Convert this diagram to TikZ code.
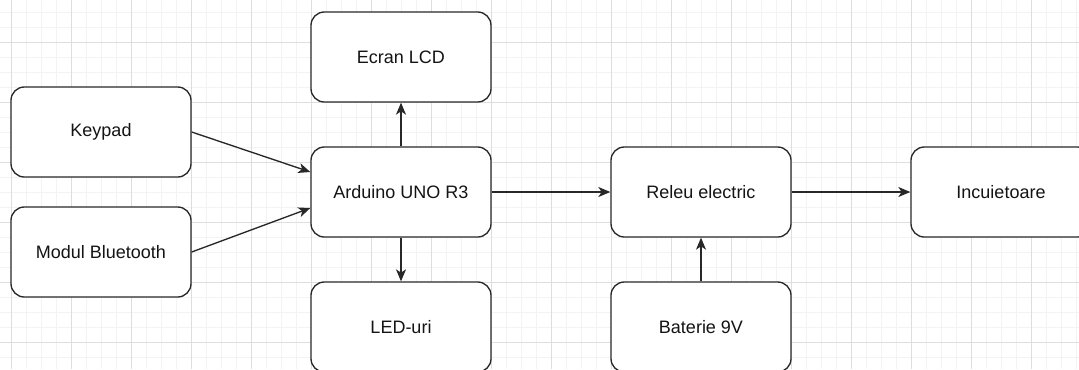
\documentclass[tikz,border=0pt]{standalone}
\usepackage{fontspec}
\setmainfont{Liberation Sans}
\usepackage{tikz}
\usetikzlibrary{positioning,arrows.meta}
\usepackage{xcolor}
\definecolor{gridlight}{RGB}{243,243,243}
\definecolor{griddark}{RGB}{222,222,222}
\definecolor{boxline}{RGB}{40,40,40}
\definecolor{labeltext}{RGB}{20,20,20}

\tikzset{
  blockbox/.style={draw=boxline,fill=white,line width=1pt,rounded corners=10pt,
    minimum width=135pt,minimum height=67.5pt,inner sep=0pt,
    text=labeltext,font=\fontsize{13.5}{16}\selectfont},
  link/.style={draw=boxline,line width=1pt,-{Stealth[length=9pt,width=7.5pt,inset=2.5pt]}}
}

\begin{document}
\begin{tikzpicture}[x=0.75pt,y=-0.75pt]
    % page and grid
    \clip (0,0) rectangle (1079,369);
    \fill[white] (0,0) rectangle (1079,369);
    \foreach \gx in {11,26,...,1077}
      \draw[gridlight,line width=0.75pt] (\gx,0) -- (\gx,369);
    \foreach \gy in {12,27,...,369}
      \draw[gridlight,line width=0.75pt] (0,\gy) -- (1079,\gy);
    \foreach \gx in {11,71,...,1077}
      \draw[griddark,line width=0.75pt] (\gx,0) -- (\gx,369);
    \foreach \gy in {42,102,...,369}
      \draw[griddark,line width=0.75pt] (0,\gy) -- (1079,\gy);

    % blocks
    \node[blockbox] (keypad) at (101,132) {Keypad};
    \node[blockbox] (bluetooth) at (101,252) {Modul Bluetooth};
    \node[blockbox] (lcd) at (401,57) {Ecran LCD};
    \node[blockbox] (arduino) at (401,192) {Arduino UNO R3};
    \node[blockbox] (leds) at (401,327) {LED-uri};
    \node[blockbox] (releu) at (701,192) {Releu electric};
    \node[blockbox] (baterie) at (701,327) {Baterie 9V};
    \node[blockbox] (incuietoare) at (1001,192) {Incuietoare};

    % connections
    \draw[link] (keypad.east) -- ([yshift=15pt]arduino.west);
    \draw[link] (bluetooth.east) -- ([yshift=-12pt]arduino.west);
    \draw[link] (arduino.north) -- (lcd.south);
    \draw[link] (arduino.south) -- (leds.north);
    \draw[link] (arduino.east) -- (releu.west);
    \draw[link] (releu.east) -- (incuietoare.west);
    \draw[link] (baterie.north) -- (releu.south);
\end{tikzpicture}
\end{document}
